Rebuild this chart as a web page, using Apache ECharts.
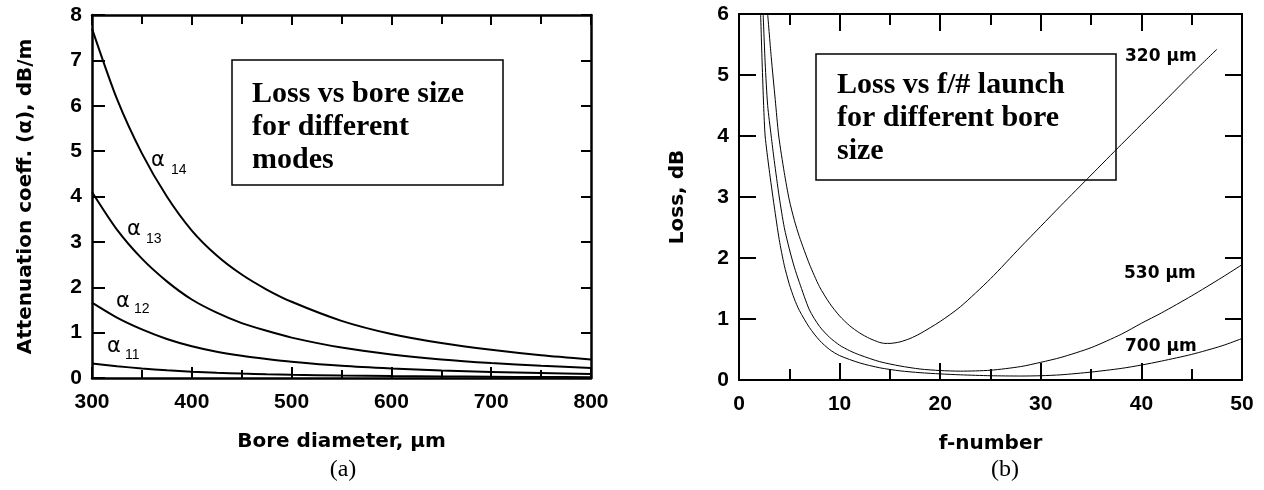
<!DOCTYPE html>
<html>
<head>
<meta charset="utf-8">
<script src="https://cdn.jsdelivr.net/npm/echarts@6/dist/echarts.min.js"></script>
<style>
html, body { margin: 0; padding: 0; background: #fff; }
#chart { width: 1264px; height: 490px; }
</style>
</head>
<body>
<div id="chart"></div>
<script>
// (a) attenuation vs bore diameter
const boreD = [300, 325, 350, 375, 400, 425, 450, 475, 500, 550, 600, 650, 700, 750, 800];
const alpha14 = [7.7, 6.15, 4.95, 4.0, 3.25, 2.7, 2.28, 1.95, 1.68, 1.26, 0.97, 0.77, 0.62, 0.5, 0.41];
const alpha13 = [4.1, 3.27, 2.63, 2.13, 1.73, 1.44, 1.21, 1.04, 0.89, 0.67, 0.52, 0.41, 0.33, 0.27, 0.22];
const alpha12 = [1.66, 1.33, 1.07, 0.86, 0.7, 0.58, 0.49, 0.42, 0.36, 0.27, 0.21, 0.165, 0.134, 0.11, 0.09];
const alpha11 = [0.32, 0.26, 0.21, 0.17, 0.14, 0.115, 0.097, 0.083, 0.072, 0.055, 0.043, 0.034, 0.027, 0.022, 0.018];

// (b) loss vs f-number
const f320 = [2.85, 3.2, 3.6, 3.95, 4.5, 5, 5.5, 6, 7, 8, 9, 10, 11, 12, 13, 14, 14.5, 15, 16, 17, 18, 20, 22, 25, 28, 30, 32, 35, 38, 40, 42, 45, 47.5];
const loss320 = [6.0, 5.3, 4.6, 4.0, 3.4, 2.95, 2.62, 2.35, 1.9, 1.53, 1.26, 1.05, 0.89, 0.77, 0.68, 0.615, 0.6, 0.6, 0.625, 0.68, 0.76, 0.96, 1.2, 1.66, 2.18, 2.52, 2.86, 3.36, 3.86, 4.19, 4.52, 5.02, 5.42];
const f530 = [2.4, 2.6, 2.85, 3.2, 3.5, 4, 4.5, 5, 5.5, 6, 7, 8, 9, 10, 11, 12, 14, 16, 18, 20, 22, 25, 28, 30, 32, 35, 38, 40, 42, 45, 48, 50];
const loss530 = [6.0, 5.2, 4.5, 4.0, 3.6, 3.0, 2.5, 2.15, 1.85, 1.6, 1.15, 0.88, 0.7, 0.57, 0.48, 0.41, 0.3, 0.23, 0.18, 0.155, 0.145, 0.16, 0.22, 0.29, 0.37, 0.53, 0.75, 0.93, 1.1, 1.38, 1.68, 1.89];
const f700 = [2.15, 2.3, 2.45, 2.6, 3, 3.5, 4, 4.5, 5, 5.5, 6, 7, 8, 9, 10, 12, 14, 16, 18, 20, 22, 25, 28, 30, 32, 35, 38, 40, 42, 45, 48, 50];
const loss700 = [6.0, 5.2, 4.5, 4.0, 3.45, 2.85, 2.3, 1.88, 1.57, 1.33, 1.14, 0.86, 0.65, 0.5, 0.4, 0.28, 0.2, 0.15, 0.12, 0.1, 0.085, 0.07, 0.065, 0.07, 0.085, 0.13, 0.19, 0.245, 0.31, 0.42, 0.56, 0.68];

const sans = "'Liberation Sans', Arial, sans-serif";
const wide = "'DejaVu Sans', Verdana, sans-serif";
const serif = "'Liberation Serif', 'Times New Roman', serif";

function pairs(xs, ys) {
  return xs.map((x, i) => [x, ys[i]]);
}

function axis(opt) {
  const lw = opt.lw || 2;
  return {
    type: "value",
    gridIndex: opt.grid,
    position: opt.pos,
    min: opt.min,
    max: opt.max,
    interval: opt.interval,
    name: opt.name || "",
    nameLocation: "middle",
    nameGap: opt.nameGap || 0,
    nameRotate: opt.nameRotate || 0,
    nameTextStyle: { fontFamily: wide, fontWeight: "bold", fontSize: 20, color: "#000" },
    axisLine: { show: true, onZero: false, lineStyle: { color: "#000", width: lw } },
    axisTick: { show: true, inside: true, length: opt.tick, lineStyle: { color: "#000", width: 2 } },
    minorTick: opt.minor
      ? { show: true, splitNumber: 2, length: opt.minor, lineStyle: { color: "#000", width: 2 } }
      : { show: false },
    axisLabel: {
      show: !!opt.labels,
      margin: opt.margin || 10,
      fontFamily: sans,
      fontWeight: "bold",
      fontSize: 21,
      color: "#000",
    },
    splitLine: { show: false },
  };
}

function curve(data, xi, yi, w) {
  return {
    type: "line",
    xAxisIndex: xi,
    yAxisIndex: yi,
    data: data,
    smooth: 0.25,
    showSymbol: false,
    silent: true,
    lineStyle: { color: "#000", width: w },
  };
}

function txt(x, y, text, size, font, weight, align) {
  return {
    type: "text",
    x: x,
    y: y,
    z: 11,
    style: {
      text: text,
      fontSize: size,
      fontFamily: font,
      fontWeight: weight,
      fill: "#000",
      align: align || "left",
      verticalAlign: "middle",
    },
  };
}

function boxText(x, y, text) {
  return {
    type: "text",
    x: x,
    y: y,
    z: 11,
    style: {
      text: text,
      fontSize: 30,
      fontFamily: serif,
      fontWeight: "bold",
      fill: "#000",
      lineHeight: 33,
      verticalAlign: "top",
    },
  };
}

const chart = echarts.init(document.getElementById("chart"));

const option = {
  animation: false,
  backgroundColor: "#fff",
  grid: [
    { left: 92, top: 15, width: 499, height: 363 },
    { left: 739, top: 14, width: 503, height: 366 },
  ],
  xAxis: [
    axis({ grid: 0, pos: "bottom", min: 300, max: 800, interval: 100, tick: 11, minor: 8, labels: true, margin: 14,
      lw: 2.5, name: "Bore diameter, µm", nameGap: 54 }),
    axis({ grid: 0, pos: "top", min: 300, max: 800, interval: 100, tick: 10, minor: 9, lw: 2.5 }),
    axis({ grid: 1, pos: "bottom", min: 0, max: 50, interval: 10, tick: 17, minor: 11, labels: true, margin: 14,
      name: "f-number", nameGap: 54 }),
    axis({ grid: 1, pos: "top", min: 0, max: 50, interval: 10, tick: 17, minor: 11 }),
  ],
  yAxis: [
    axis({ grid: 0, pos: "left", min: 0, max: 8, interval: 1, tick: 13, labels: true, margin: 10, lw: 2.5,
      name: "Attenuation coeff. (α), dB/m", nameGap: 56, nameRotate: 90 }),
    axis({ grid: 0, pos: "right", min: 0, max: 8, interval: 1, tick: 10, lw: 2.5 }),
    axis({ grid: 1, pos: "left", min: 0, max: 6, interval: 1, tick: 17, labels: true, margin: 10,
      name: "Loss, dB", nameGap: 51, nameRotate: 90 }),
    axis({ grid: 1, pos: "right", min: 0, max: 6, interval: 1, tick: 17 }),
  ],
  series: [
    curve(pairs(boreD, alpha14), 0, 0, 2),
    curve(pairs(boreD, alpha13), 0, 0, 2),
    curve(pairs(boreD, alpha12), 0, 0, 2),
    curve(pairs(boreD, alpha11), 0, 0, 2),
    curve(pairs(f320, loss320), 2, 2, 1),
    curve(pairs(f530, loss530), 2, 2, 1),
    curve(pairs(f700, loss700), 2, 2, 1),
  ],
  graphic: [
    // text boxes
    { type: "rect", shape: { x: 232, y: 60, width: 271, height: 125 },
      style: { fill: "none", stroke: "#000", lineWidth: 1.5 }, z: 10 },
    boxText(252, 78, "Loss vs bore size\nfor different\nmodes"),
    { type: "rect", shape: { x: 816, y: 54, width: 300, height: 126 },
      style: { fill: "none", stroke: "#000", lineWidth: 1.5 }, z: 10 },
    boxText(837, 69, "Loss vs f/# launch\nfor different bore\nsize"),

    // mode labels (a)
    txt(151, 161, "α", 21, wide, "normal"),
    txt(171, 170, "14", 14, sans, "normal"),
    txt(127, 230, "α", 21, wide, "normal"),
    txt(146, 239, "13", 14, sans, "normal"),
    txt(116, 302, "α", 21, wide, "normal"),
    txt(134, 309, "12", 14, sans, "normal"),
    txt(107, 347, "α", 21, wide, "normal"),
    txt(125, 355, "11", 14, sans, "normal"),

    // bore labels (b)
    txt(1125, 57, "320 μm", 17, wide, "bold"),
    txt(1124, 274, "530 μm", 17, wide, "bold"),
    txt(1125, 347, "700 μm", 17, wide, "bold"),

    // panel captions
    txt(343, 470, "(a)", 24, serif, "normal", "center"),
    txt(1005, 470, "(b)", 24, serif, "normal", "center"),
  ],
};

chart.setOption(option);
</script>
</body>
</html>
